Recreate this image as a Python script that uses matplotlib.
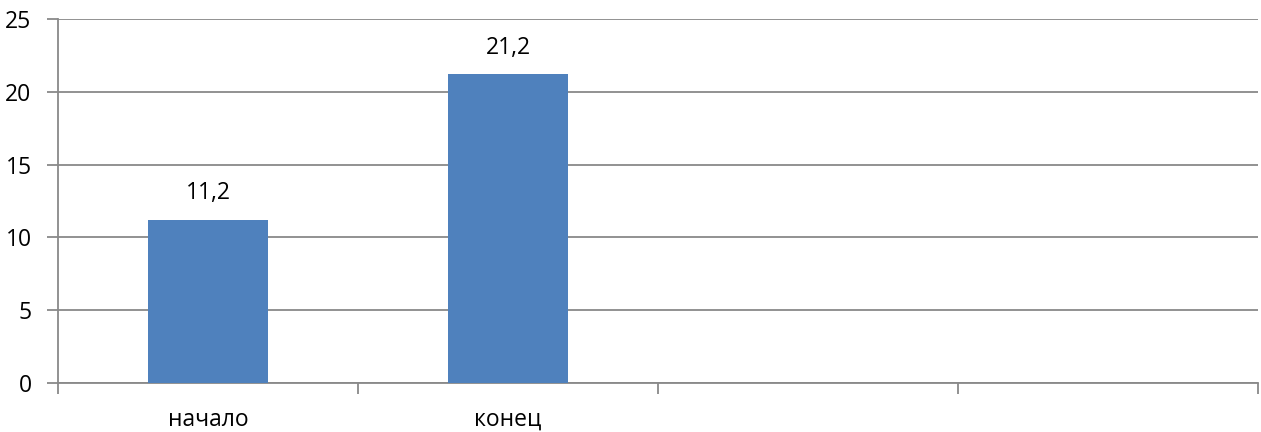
import matplotlib
matplotlib.use("Agg")
import matplotlib.pyplot as plt
import numpy as np

categories = ["начало", "конец", "", ""]
values = [11.2, 21.2, None, None]
y_ticks = [0, 5, 10, 15, 20, 25]

plt.rcParams['font.family'] = ['Open Sans', 'DejaVu Sans']
FS = 16.5

fig = plt.figure(figsize=(12.61, 4.32), dpi=100)
ax = fig.add_axes([58 / 1261, 1 - 383 / 432, 1200 / 1261, 364 / 432])

bar_color = "#4F81BD"
grid_color = "#898989"

xs = np.arange(len(categories))
for x, v in zip(xs, values):
    if v is None:
        continue
    ax.bar(x, v, width=0.4, color=bar_color, zorder=3)
    ax.text(x, v + 1.0, f"{v:.1f}".replace(".", ","), ha="center", va="bottom",
            fontsize=FS, color="#000000")

ax.set_xlim(-0.5, len(categories) - 0.5)
ax.set_ylim(0, 25)
ax.set_yticks(y_ticks)
ax.set_yticklabels([str(t) for t in y_ticks], fontsize=FS)
ax.yaxis.grid(True, color=grid_color, linewidth=1.3, zorder=0)
ax.set_axisbelow(True)

# category boundaries carry the x tick marks; labels sit at category centres
ax.set_xticks(np.arange(len(categories) + 1) - 0.5)
ax.set_xticklabels([])
ax.set_xticks(xs, minor=True)
ax.set_xticklabels(categories, minor=True, fontsize=FS)
ax.tick_params(axis="x", which="major", length=8, width=1.3, color=grid_color)
ax.tick_params(axis="x", which="minor", length=0, pad=18)
ax.tick_params(axis="y", length=8, width=1.3, color=grid_color, pad=11)

for side in ["top", "right"]:
    ax.spines[side].set_visible(False)
for side in ["left", "bottom"]:
    ax.spines[side].set_color(grid_color)
    ax.spines[side].set_linewidth(1.3)

fig.savefig("out.png", dpi=100, facecolor="white")
